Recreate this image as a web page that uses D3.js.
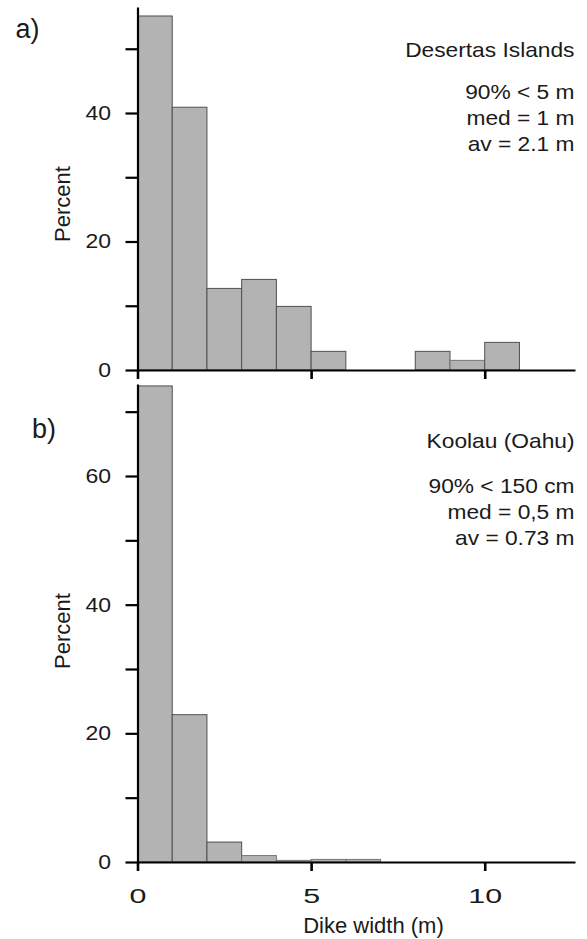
<!DOCTYPE html>
<html>
<head>
<meta charset="utf-8">
<script src="https://cdn.jsdelivr.net/npm/d3@7"></script>
<style>
  html, body { margin: 0; padding: 0; background: #fff; }
  svg { display: block; font-family: "Liberation Sans", Arial, Helvetica, sans-serif; }
</style>
</head>
<body>
<svg id="chart" width="587" height="939"></svg>
<script>
// Dike width histograms: start of each 1 m bin and percent of dikes in it
const binsA = [0, 1, 2, 3, 4, 5, 8, 9, 10];
const percentA = [55.1, 40.9, 12.7, 14.1, 9.9, 2.9, 2.9, 1.5, 4.3];
const binsB = [0, 1, 2, 3, 4, 5, 6];
const percentB = [74.0, 22.9, 3.1, 1.0, 0.25, 0.4, 0.4];
const binWidth = 1;

const xTicks = [0, 5, 10];
const yTicksA = [0, 10, 20, 30, 40, 50];
const yTicksB = [0, 10, 20, 30, 40, 50, 60, 70];
const yLabelStep = 20;

const notesA = ["Desertas Islands", "90% < 5 m", "med = 1 m", "av = 2.1 m"];
const notesB = ["Koolau (Oahu)", "90% < 150 cm", "med = 0,5 m", "av = 0.73 m"];
const xTitle = "Dike width (m)";
const yTitle = "Percent";

// Layout
const left = 137.5, right = 575;
const x = d3.scaleLinear().domain([0, 12.6]).range([left, right]);

const panels = [
  { letter: "a)", bins: binsA, values: percentA, ticks: yTicksA, notes: notesA,
    yMax: 56.5, top: 7, bottom: 370, xLabels: false,
    letterPos: [15.5, 38], titleY: 204, noteY: [57, 98.5, 124.5, 150.5] },
  { letter: "b)", bins: binsB, values: percentB, ticks: yTicksB, notes: notesB,
    yMax: 74.3, top: 384, bottom: 862, xLabels: true,
    letterPos: [32, 438], titleY: 631, noteY: [448, 493, 519, 545] }
];

const svg = d3.select("#chart");

panels.forEach(p => {
  const y = d3.scaleLinear().domain([0, p.yMax]).range([p.bottom, p.top]);
  const g = svg.append("g");

  // histogram bars
  g.selectAll("rect.bar")
    .data(p.bins.map((b, i) => ({ b, v: p.values[i] })))
    .join("rect")
    .attr("class", "bar")
    .attr("x", d => x(d.b))
    .attr("width", d => x(d.b + binWidth) - x(d.b))
    .attr("y", d => y(d.v))
    .attr("height", d => y(0) - y(d.v))
    .attr("fill", "#b3b3b3")
    .attr("stroke", d => d.v < 2 ? "#777" : "#505050")
    .attr("stroke-width", 1);

  // y axis: ticks every 10, labels every 20
  const yAxis = g.append("g")
    .attr("transform", `translate(${left},0)`)
    .call(d3.axisLeft(y).tickValues(p.ticks).tickSize(12).tickSizeOuter(0).tickPadding(11)
      .tickFormat(d => d % yLabelStep === 0 ? d : ""));
  yAxis.select(".domain").attr("stroke", "#000").attr("stroke-width", 2.2);
  yAxis.selectAll(".tick line").attr("stroke", "#000").attr("stroke-width", 2.2);
  yAxis.selectAll(".tick text")
    .attr("font-size", 20)
    .attr("fill", "#1a1a1a")
    .attr("transform", "scale(1.15,1)");

  // x axis: labels only under the lower panel
  const xAxis = g.append("g")
    .attr("transform", `translate(0,${p.bottom})`)
    .call(d3.axisBottom(x).tickValues(xTicks).tickSize(9).tickSizeOuter(0).tickPadding(17)
      .tickFormat(d => p.xLabels ? d : ""));
  xAxis.select(".domain").attr("stroke", "#000").attr("stroke-width", 2.2);
  xAxis.selectAll(".tick line").attr("stroke", "#000").attr("stroke-width", 2.6);
  xAxis.selectAll(".tick text")
    .attr("font-size", 21)
    .attr("fill", "#1a1a1a")
    .attr("transform", "scale(1.45,1)");

  // y title
  g.append("text")
    .attr("transform", `translate(70,${p.titleY}) rotate(-90)`)
    .attr("text-anchor", "middle")
    .attr("font-size", 22)
    .attr("fill", "#1a1a1a")
    .text(yTitle);

  // panel letter
  g.append("text")
    .attr("x", p.letterPos[0]).attr("y", p.letterPos[1])
    .attr("font-size", 27)
    .attr("fill", "#1a1a1a")
    .text(p.letter);

  // site name and statistics
  p.notes.forEach((t, i) => {
    g.append("text")
      .attr("transform", `translate(574.5,${p.noteY[i]}) scale(1.11,1)`)
      .attr("text-anchor", "end")
      .attr("font-size", 20.5)
      .attr("fill", "#1a1a1a")
      .text(t);
  });
});

// x title
svg.append("text")
  .attr("x", 373.5).attr("y", 932.5)
  .attr("text-anchor", "middle")
  .attr("font-size", 22)
  .attr("fill", "#1a1a1a")
  .text(xTitle);
</script>
</body>
</html>
